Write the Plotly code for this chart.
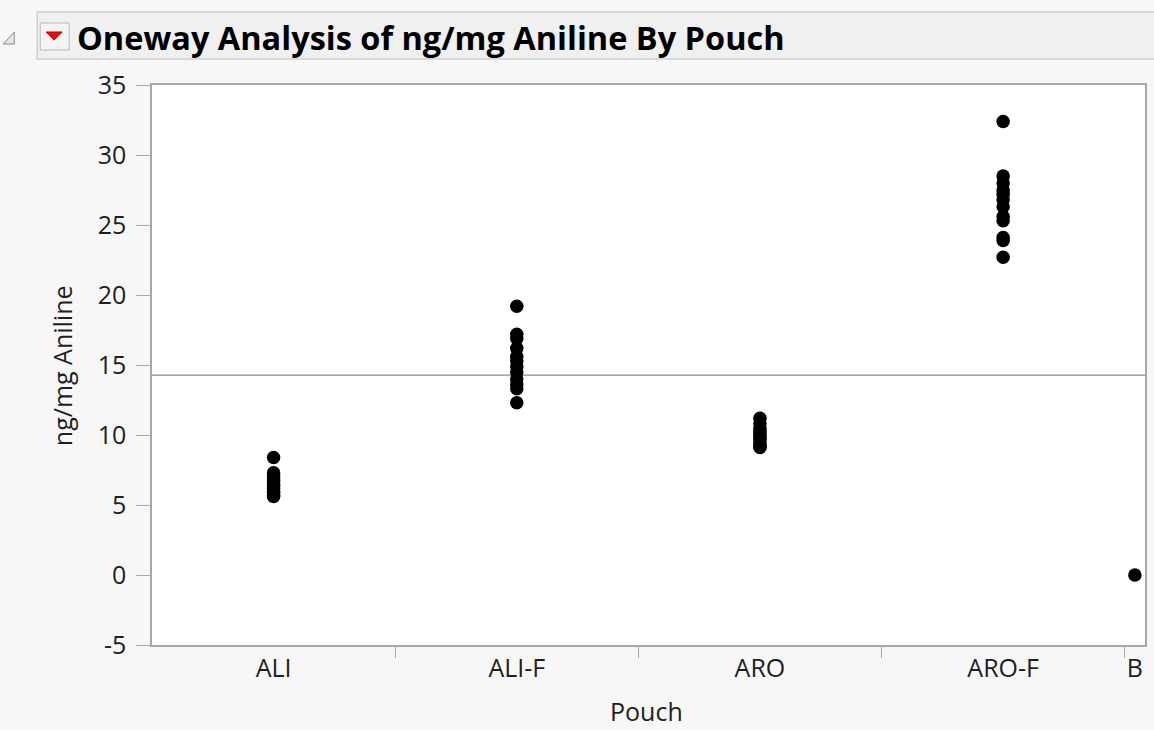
import plotly.graph_objects as go

# ---- data ----
groups = ["ALI", "ALI-F", "ARO", "ARO-F", "B"]
ali = [8.4, 7.3, 7.1, 6.9, 6.7, 6.5, 6.4, 6.2, 6.0, 5.9, 5.7, 5.6]
ali_f = [19.2, 17.2, 16.9, 16.2, 15.6, 15.3, 14.9, 14.5, 14.0, 13.6, 13.3, 12.3]
aro = [11.2, 10.8, 10.5, 10.3, 10.1, 10.0, 9.8, 9.7, 9.5, 9.3, 9.2, 9.1]
aro_f = [32.4, 28.5, 28.0, 27.5, 27.2, 26.8, 26.3, 25.6, 25.3, 24.1, 23.9, 22.7]
b = [0.0]
y_ticks = [-5, 0, 5, 10, 15, 20, 25, 30, 35]
y_tick_text = ["-5", "0", "5", "10", "15", "20", "25", "30", "35"]

series = [ali, ali_f, aro, aro_f, b]

# JMP-style x axis: each group's width proportional to its count
counts = [len(s) for s in series]
bounds = [0]
for c in counts:
    bounds.append(bounds[-1] + c)
centers = [(bounds[i] + bounds[i + 1]) / 2 for i in range(len(groups))]

xs, ys = [], []
for cx, s in zip(centers, series):
    xs += [cx] * len(s)
    ys += s
grand_mean = sum(ys) / len(ys)

W, H = 1154, 730
L, R, T, B = 152, 7, 85, 85
pw, ph = W - L - R, H - T - B


def px(x):
    return (x - L) / pw


def py(y):
    return (H - B - y) / ph


fig = go.Figure()
fig.add_trace(go.Scatter(
    x=xs, y=ys, mode="markers",
    marker=dict(color="black", size=13.5, line=dict(width=0)),
    hoverinfo="x+y", showlegend=False, cliponaxis=False,
))

axis_col = "#a8a8a8"
font_fam = "Open Sans, DejaVu Sans, sans-serif"
txt_col = "#1e1e1e"

fig.update_layout(
    width=W, height=H,
    margin=dict(l=L, r=R, t=T, b=B),
    paper_bgcolor="#f7f7f7",
    plot_bgcolor="white",
    showlegend=False,
    xaxis=dict(
        range=[bounds[0], bounds[-1]],
        tickmode="array", tickvals=centers, ticktext=groups,
        ticks="", showgrid=False, zeroline=False,
        showline=True, linecolor=axis_col, linewidth=1.5, mirror=True,
        tickfont=dict(family=font_fam, size=25, color=txt_col),
        ticklabelstandoff=0,
        minor=dict(tickmode="array", tickvals=bounds[1:-1], ticks="outside",
                   ticklen=11, tickcolor=axis_col, tickwidth=1, showgrid=False),
    ),
    yaxis=dict(
        range=[-5, 35], tickmode="array", tickvals=y_ticks, ticktext=y_tick_text,
        ticks="outside", ticklen=14, tickcolor=axis_col, tickwidth=1,
        showgrid=False, zeroline=False,
        showline=True, linecolor=axis_col, linewidth=1.5, mirror=True,
        tickfont=dict(family=font_fam, size=25, color=txt_col),
        ticklabelstandoff=5,
    ),
)

# grand mean line
fig.add_shape(type="line", xref="paper", yref="y", x0=0, x1=1,
              y0=grand_mean, y1=grand_mean,
              line=dict(color="#8a8a8a", width=1.3), layer="below")

# header bar
fig.add_shape(type="rect", xref="paper", yref="paper",
              x0=px(37), x1=px(1160), y0=py(12), y1=py(59),
              fillcolor="#f0f0f0", line=dict(color="#cfcfcf", width=1.5))
# disclosure triangle
fig.add_shape(type="path", xref="paper", yref="paper",
              path=f"M {px(3)} {py(44)} L {px(14)} {py(32)} L {px(14)} {py(44)} Z",
              fillcolor="#e6e6e6", line=dict(color="#8c8c8c", width=1))
# red popup button
fig.add_shape(type="rect", xref="paper", yref="paper",
              x0=px(40), x1=px(69), y0=py(23), y1=py(50),
              fillcolor="#f4f4f4", line=dict(color="#b8b8b8", width=1))
fig.add_shape(type="path", xref="paper", yref="paper",
              path=f"M {px(46)} {py(32)} L {px(62)} {py(32)} L {px(54)} {py(40)} Z",
              fillcolor="#e01010", line=dict(color="#c00000", width=1))

fig.add_annotation(xref="paper", yref="paper", x=px(75), y=py(37),
                   text="<b>Oneway Analysis of ng/mg Aniline By Pouch</b>",
                   showarrow=False, xanchor="left", yanchor="middle",
                   font=dict(family=font_fam, size=32.5, color="black"))

fig.add_annotation(xref="paper", yref="paper", x=px(62), y=py(366),
                   text="ng/mg Aniline", textangle=-90, showarrow=False,
                   xanchor="center", yanchor="middle",
                   font=dict(family=font_fam, size=25, color=txt_col))
fig.add_annotation(xref="paper", yref="paper", x=px(647), y=py(711),
                   text="Pouch", showarrow=False,
                   xanchor="center", yanchor="middle",
                   font=dict(family=font_fam, size=25, color=txt_col))

fig.write_html("out.html", config={"displayModeBar": False},
               post_script="document.body.style.margin='0';")
